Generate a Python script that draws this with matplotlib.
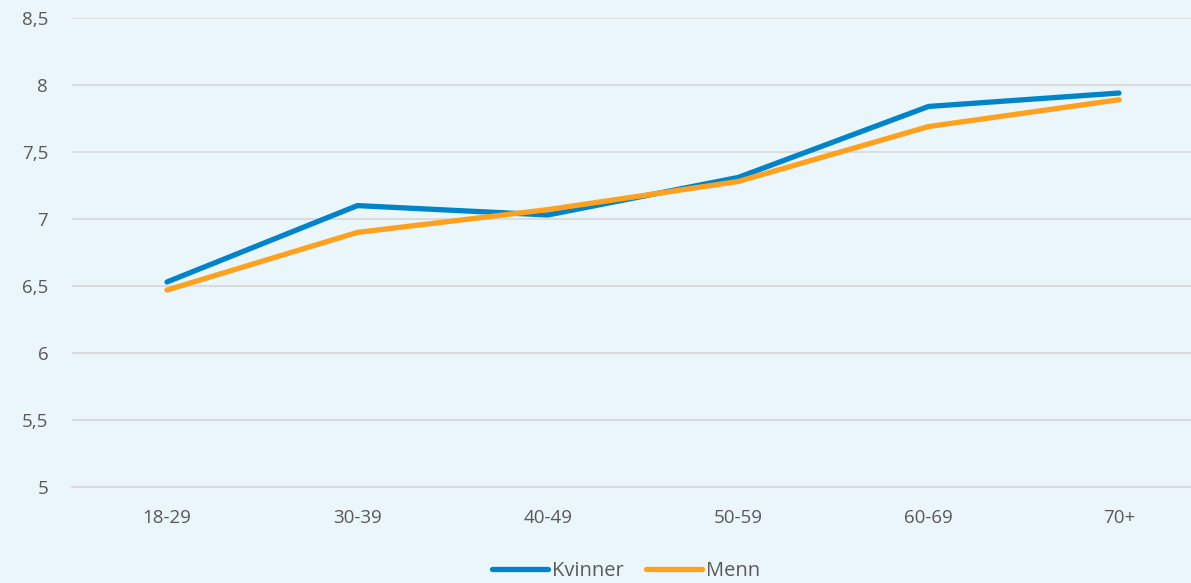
import matplotlib.pyplot as plt
import numpy as np

plt.rcParams['font.family'] = ['Open Sans', 'DejaVu Sans']

categories = ['18-29', '30-39', '40-49', '50-59', '60-69', '70+']
kvinner = [6.53, 7.10, 7.03, 7.31, 7.84, 7.94]
menn = [6.47, 6.90, 7.07, 7.28, 7.69, 7.89]
yticks = [5, 5.5, 6, 6.5, 7, 7.5, 8, 8.5]
ytick_labels = ['5', '5,5', '6', '6,5', '7', '7,5', '8', '8,5']

bg = '#EBF6FB'
text_col = '#595959'

fig = plt.figure(figsize=(11.91, 5.83), dpi=100, facecolor=bg)
# right edge runs past the figure, as in the reference
ax = fig.add_axes([71.8 / 1191, (583 - 487) / 583, 1142.4 / 1191, (487 - 18) / 583])
ax.set_facecolor(bg)

x = np.arange(len(categories))
ax.plot(x, kvinner, color='#0084C9', lw=3.8, solid_capstyle='round', label='Kvinner')
ax.plot(x, menn, color='#FFA01F', lw=3.8, solid_capstyle='round', label='Menn')

ax.set_xlim(-0.5, len(categories) - 0.5)
ax.set_ylim(5, 8.5)
ax.set_yticks(yticks)
ax.set_yticklabels(ytick_labels)
ax.set_xticks(x)
ax.set_xticklabels(categories)
ax.grid(axis='y', color='#D9D9D9', lw=1.3)
ax.set_axisbelow(True)
for s in ax.spines.values():
    s.set_visible(False)
ax.spines['bottom'].set_visible(True)
ax.spines['bottom'].set_color('#D9D9D9')
ax.spines['bottom'].set_linewidth(1.3)
ax.tick_params(length=0, labelsize=13.5, labelcolor=text_col)
ax.tick_params(axis='x', pad=16)
ax.tick_params(axis='y', pad=17)

fig.legend(loc='center', bbox_to_anchor=(626 / 1191, 1 - 571 / 583), ncol=2,
           frameon=False, fontsize=14.5, labelcolor=text_col, handlelength=2.8,
           handletextpad=0.2, columnspacing=1.1)

fig.savefig('out.png', dpi=100, facecolor=bg)
